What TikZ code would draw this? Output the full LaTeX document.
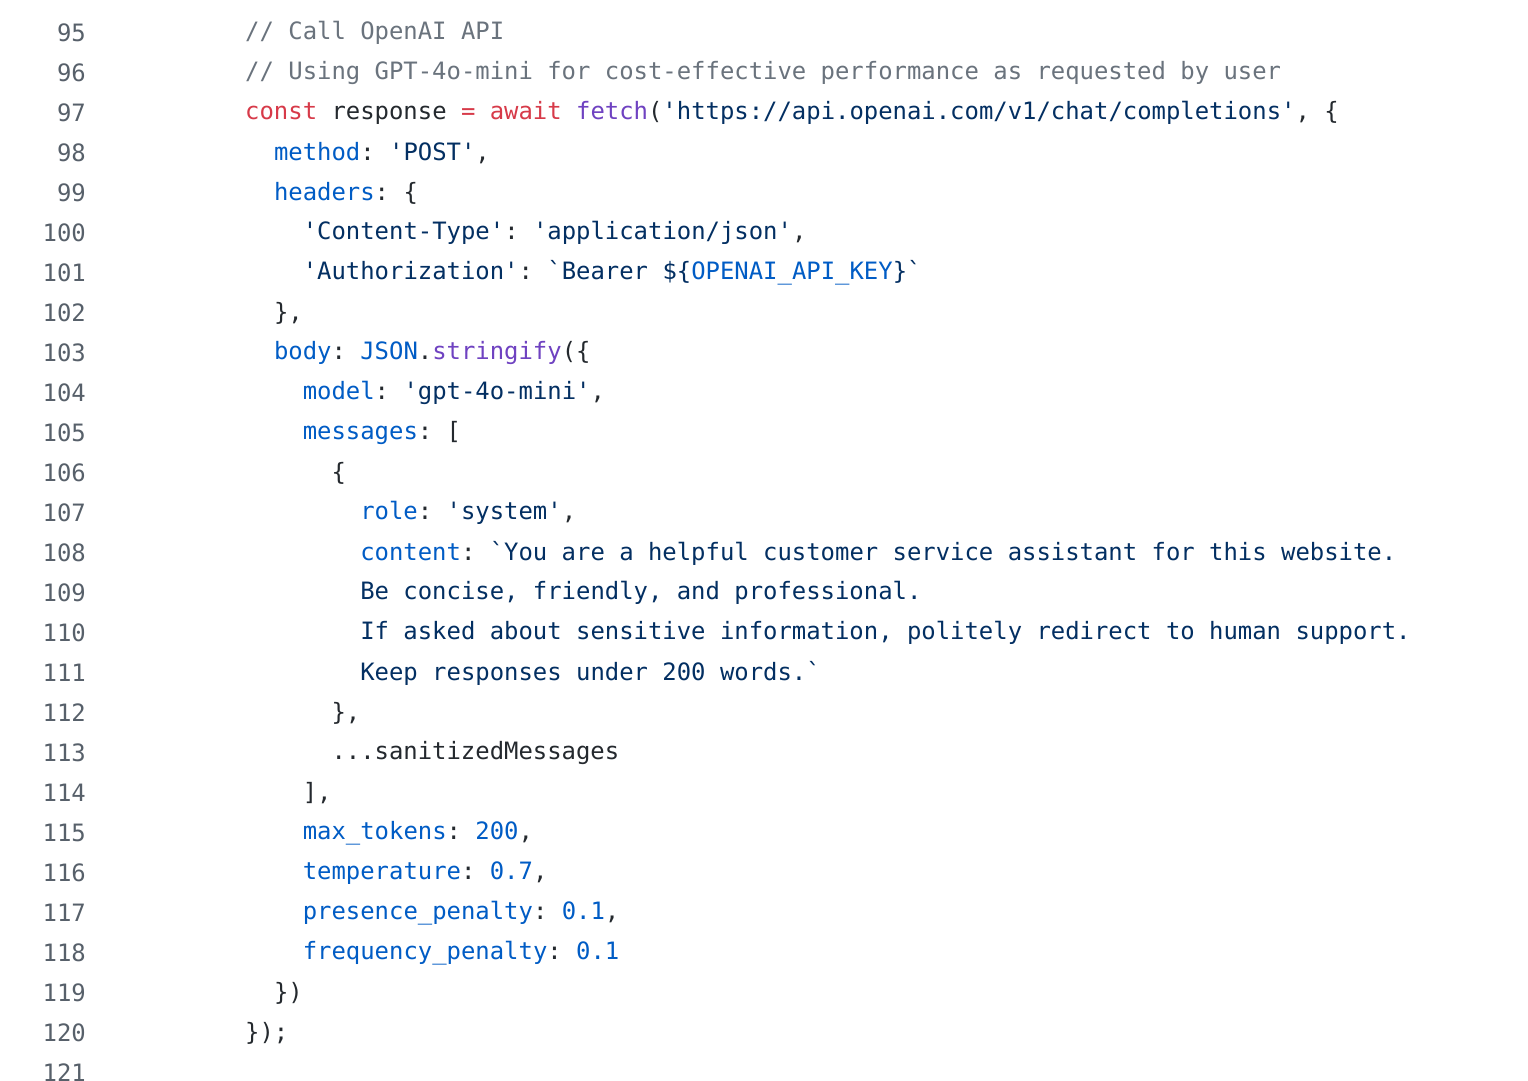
\documentclass[tikz,border=0pt]{standalone}
\usepackage{fontspec}
\setmonofont{DejaVu Sans Mono}
\definecolor{cmt}{HTML}{6A737D}
\definecolor{kwd}{HTML}{D73A49}
\definecolor{str}{HTML}{032F62}
\definecolor{prp}{HTML}{005CC5}
\definecolor{fnc}{HTML}{6F42C1}
\definecolor{txt}{HTML}{24292E}
\definecolor{num}{HTML}{57606A}
\newcommand\cm[1]{\textcolor{cmt}{#1}}
\newcommand\kw[1]{\textcolor{kwd}{#1}}
\newcommand\st[1]{\textcolor{str}{#1}}
\newcommand\pr[1]{\textcolor{prp}{#1}}
\newcommand\fn[1]{\textcolor{fnc}{#1}}
\tikzset{
  lineno/.style={anchor=east,inner sep=0pt,text=num,font=\fontsize{23.9}{26}\ttfamily},
  codeline/.style={anchor=west,inner sep=0pt,text=txt,font=\fontsize{23.9}{26}\ttfamily}
}
\begin{document}
\begin{tikzpicture}[x=1pt,y=-1pt]
  \useasboundingbox[fill=white] (0,0) rectangle (1528,1080);
  \foreach \n in {95,...,121}
    \node[lineno] (l\n) at (86,{33+40*(\n-95)}) {\n};
  % code, one node per line: indent = 14.39pt per space
  \node[codeline] (c95) at (245,33) {\cm{// Call OpenAI API}};
  \node[codeline] (c96) at (245,73) {\cm{// Using GPT-4o-mini for cost-effective performance as requested by user}};
  \node[codeline] (c97) at (245,113) {\kw{const} response \kw{=} \kw{await} \fn{fetch}(\st{'https://api.openai.com/v1/chat/completions'}, \{};
  \node[codeline] (c98) at (273.8,153) {\pr{method}: \st{'POST'},};
  \node[codeline] (c99) at (273.8,193) {\pr{headers}: \{};
  \node[codeline] (c100) at (302.6,233) {\st{'Content-Type'}: \st{'application/json'},};
  \node[codeline] (c101) at (302.6,273) {\st{'Authorization'}: \st{`Bearer \$\{}\pr{OPENAI\_API\_KEY}\st{\}`}};
  \node[codeline] (c102) at (273.8,313) {\},};
  \node[codeline] (c103) at (273.8,353) {\pr{body}: \pr{JSON}.\fn{stringify}(\{};
  \node[codeline] (c104) at (302.6,393) {\pr{model}: \st{'gpt-4o-mini'},};
  \node[codeline] (c105) at (302.6,433) {\pr{messages}: [};
  \node[codeline] (c106) at (331.3,473) {\{};
  \node[codeline] (c107) at (360.1,513) {\pr{role}: \st{'system'},};
  \node[codeline] (c108) at (360.1,553) {\pr{content}: \st{`You are a helpful customer service assistant for this website.}};
  \node[codeline] (c109) at (360.1,593) {\st{Be concise, friendly, and professional.}};
  \node[codeline] (c110) at (360.1,633) {\st{If asked about sensitive information, politely redirect to human support.}};
  \node[codeline] (c111) at (360.1,673) {\st{Keep responses under 200 words.`}};
  \node[codeline] (c112) at (331.3,713) {\},};
  \node[codeline] (c113) at (331.3,753) {...sanitizedMessages};
  \node[codeline] (c114) at (302.6,793) {],};
  \node[codeline] (c115) at (302.6,833) {\pr{max\_tokens}: \pr{200},};
  \node[codeline] (c116) at (302.6,873) {\pr{temperature}: \pr{0.7},};
  \node[codeline] (c117) at (302.6,913) {\pr{presence\_penalty}: \pr{0.1},};
  \node[codeline] (c118) at (302.6,953) {\pr{frequency\_penalty}: \pr{0.1}};
  \node[codeline] (c119) at (273.8,993) {\})};
  \node[codeline] (c120) at (245,1033) {\});};
\end{tikzpicture}
\end{document}
